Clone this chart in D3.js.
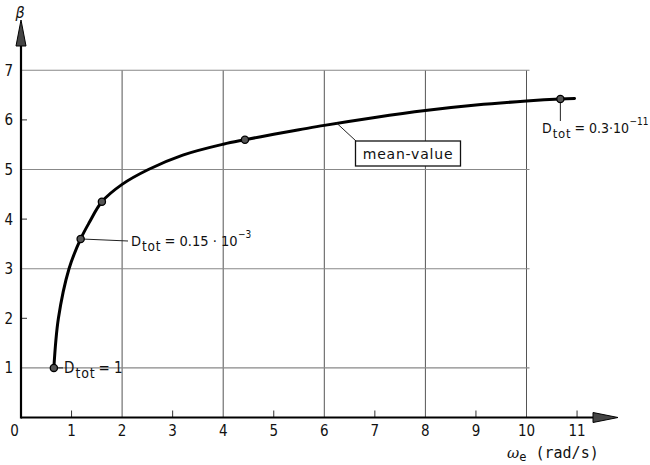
<!DOCTYPE html>
<html>
<head>
<meta charset="utf-8">
<script src="https://cdn.jsdelivr.net/npm/d3@7/dist/d3.min.js"></script>
<style>
  html, body { margin: 0; padding: 0; background: #fff; }
  svg { display: block; }
  text { font-family: "DejaVu Sans Condensed", "DejaVu Sans", sans-serif; fill: #111; }
</style>
</head>
<body>
<svg id="chart" width="650" height="465"></svg>
<script>
// Mean-value curve: angular velocity ω_e (rad/s) vs β
const curveOmega = [0.65, 0.74, 0.95, 1.18, 1.35, 1.60, 2.00, 2.52, 3.20, 4.00, 4.43, 5.00, 5.50, 6.00, 7.00, 8.00, 9.00, 10.00, 10.67, 10.95];
const curveBeta  = [1.00, 2.00, 3.00, 3.60, 3.93, 4.35, 4.70, 5.00, 5.29, 5.51, 5.60, 5.71, 5.80, 5.89, 6.05, 6.19, 6.30, 6.38, 6.42, 6.43];

// Marked operating points along the curve
const markOmega = [0.65, 1.18, 1.60, 4.43, 10.67];
const markBeta  = [1.00, 3.60, 4.35, 5.60, 6.42];

// Axis tick values
const xGridValues = [2, 4, 6, 8, 10];
const xTickValues = [1, 3, 5, 7, 9, 11];
const xLabelValues = [1, 2, 3, 4, 5, 6, 7, 8, 9, 10, 11];
const yGridValues = [1, 3, 5, 7];
const yTickValues = [2, 4, 6];
const yLabelValues = [1, 2, 3, 4, 5, 6, 7];

const svg = d3.select("#chart");

const x = d3.scaleLinear().domain([0, 10]).range([21, 526.5]);
const y = d3.scaleLinear().domain([0, 7]).range([417.5, 70.3]);

// Grid
const grid = svg.append("g");
grid.selectAll("line.v").data(xGridValues).join("line")
  .attr("x1", d => x(d)).attr("x2", d => x(d))
  .attr("y1", y(0)).attr("y2", y(7))
  .attr("stroke", "#555").attr("stroke-width", 1);
grid.selectAll("line.h").data(yGridValues).join("line")
  .attr("x1", x(0)).attr("x2", x(10) + 3)
  .attr("y1", d => y(d)).attr("y2", d => y(d))
  .attr("stroke", "#888").attr("stroke-width", 1.1);

// Short ticks
grid.selectAll("line.xt").data(xTickValues).join("line")
  .attr("x1", d => x(d)).attr("x2", d => x(d))
  .attr("y1", y(0)).attr("y2", y(0) - 7)
  .attr("stroke", "#333").attr("stroke-width", 1);
grid.selectAll("line.yt").data(yTickValues).join("line")
  .attr("x1", x(0)).attr("x2", x(0) + 6)
  .attr("y1", d => y(d)).attr("y2", d => y(d))
  .attr("stroke", "#333").attr("stroke-width", 1);

// Axes with arrowheads
const axes = svg.append("g");
axes.append("line").attr("x1", x(0)).attr("x2", 596).attr("y1", y(0)).attr("y2", y(0))
  .attr("stroke", "#000").attr("stroke-width", 2.2);
axes.append("line").attr("x1", x(0)).attr("x2", x(0)).attr("y1", y(0) + 1).attr("y2", 44)
  .attr("stroke", "#000").attr("stroke-width", 2.2);
axes.append("path")
  .attr("d", `M${593},${y(0) - 5} L${618},${y(0)} L${593},${y(0) + 5} Z`)
  .attr("fill", "#444").attr("stroke", "#000").attr("stroke-width", 1);
axes.append("path")
  .attr("d", `M${x(0) - 5},${46} L${x(0)},${20} L${x(0) + 5},${46} Z`)
  .attr("fill", "#444").attr("stroke", "#000").attr("stroke-width", 1);

// Tick labels
const labels = svg.append("g").style("font-size", "15px");
labels.selectAll("text.xl").data(xLabelValues).join("text")
  .attr("x", d => x(d)).attr("y", 436)
  .attr("text-anchor", "middle").text(d => d);
labels.append("text").attr("x", 14.5).attr("y", 436).attr("text-anchor", "middle").text("0");
labels.selectAll("text.yl").data(yLabelValues).join("text")
  .attr("x", 13).attr("y", d => y(d) + 5.5)
  .attr("text-anchor", "end").text(d => d);

// Axis titles
svg.append("text").attr("x", 20).attr("y", 18).attr("text-anchor", "middle")
  .style("font-size", "16px").style("font-style", "italic").text("β");
const xt = svg.append("text").attr("x", 507).attr("y", 458).style("font-size", "15px")
  .style("font-family", "'DejaVu Sans Mono', monospace");
xt.append("tspan").text("ω").style("font-style", "italic").style("font-family", "'DejaVu Serif', serif");
xt.append("tspan").text("e").attr("dy", 3).style("font-size", "12px");
xt.append("tspan").text(" (rad/s)").attr("dy", -3);

// Curve
const pts = curveOmega.map((w, i) => [w, curveBeta[i]]);
svg.append("path")
  .attr("d", d3.line().x(d => x(d[0])).y(d => y(d[1])).curve(d3.curveCatmullRom.alpha(0.5))(pts))
  .attr("fill", "none").attr("stroke", "#000").attr("stroke-width", 3)
  .attr("stroke-linecap", "round");

// Leader lines
const lead = svg.append("g").attr("stroke", "#222").attr("stroke-width", 1);
lead.append("line").attr("x1", x(markOmega[0])).attr("y1", y(markBeta[0]))
  .attr("x2", 63).attr("y2", y(markBeta[0]));
lead.append("line").attr("x1", x(markOmega[1])).attr("y1", y(markBeta[1]))
  .attr("x2", 128).attr("y2", 241);
lead.append("line").attr("x1", x(markOmega[4])).attr("y1", y(markBeta[4]))
  .attr("x2", x(markOmega[4])).attr("y2", 121);
lead.append("line").attr("x1", x(6.24)).attr("y1", y(5.94))
  .attr("x2", 356).attr("y2", 141);

// Points
svg.selectAll("circle.m").data(markOmega).join("circle")
  .attr("cx", d => x(d)).attr("cy", (d, i) => y(markBeta[i])).attr("r", 3.6)
  .attr("fill", "#555").attr("stroke", "#000").attr("stroke-width", 1.3);

// D_tot annotations
function dtot(xp, yp, rest, sup, size) {
  const t = svg.append("text").attr("x", xp).attr("y", yp).style("font-size", size + "px");
  t.append("tspan").text("D");
  t.append("tspan").text("tot").attr("dy", 5).attr("dx", 1).style("font-size", (size - 1) + "px")
    .style("letter-spacing", "0.8px");
  t.append("tspan").text(rest).attr("dy", -5).attr("dx", 3);
  if (sup) t.append("tspan").text(sup).attr("dy", -8).style("font-size", "10px").attr("dx", 0.5);
}
dtot(64, 373, "= 1", null, 15);
dtot(131, 246, "= 0.15 · 10", "−3", 14.5);
dtot(542, 133, "= 0.3·10", "−11", 14);

// mean-value label box
svg.append("rect").attr("x", 355.5).attr("y", 141).attr("width", 105).attr("height", 25)
  .attr("fill", "#fff").attr("stroke", "#111").attr("stroke-width", 1.3);
svg.append("text").attr("x", 408).attr("y", 158.5).attr("text-anchor", "middle")
  .style("font-size", "14px").style("letter-spacing", "0.8px")
  .style("font-family", "'DejaVu Sans', sans-serif").text("mean-value");
</script>
</body>
</html>
